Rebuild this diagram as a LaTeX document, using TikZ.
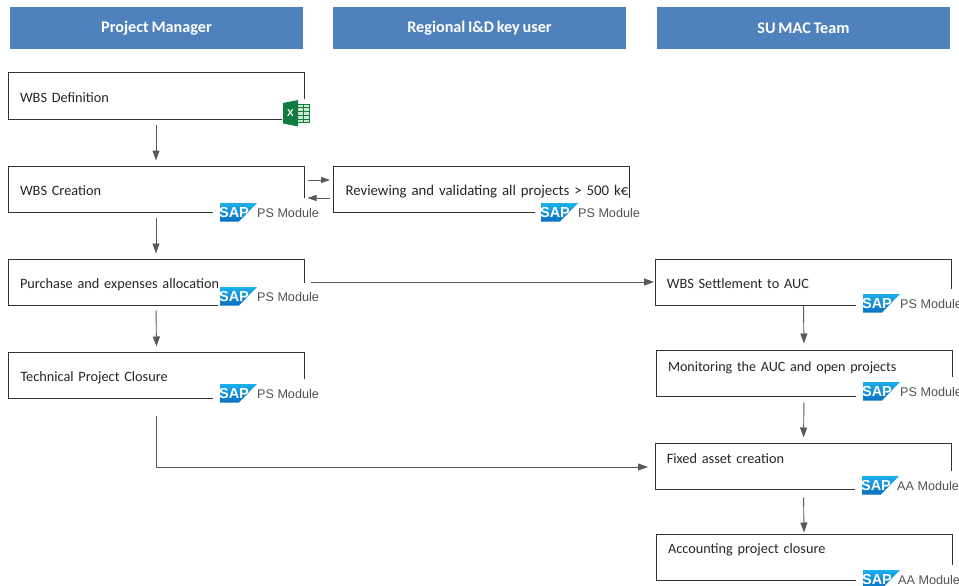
\documentclass[tikz,border=0pt]{standalone}
\usepackage{fontspec}
\setmainfont[WordSpace=0.75]{Carlito}
\newfontfamily\labelfont{Liberation Sans}
\usetikzlibrary{arrows.meta}
\definecolor{headblue}{HTML}{4F81BD}
\definecolor{flowgrey}{HTML}{595959}
\definecolor{xldark}{HTML}{107C41}
\definecolor{xllight}{HTML}{CFE8D0}
\definecolor{saptop}{HTML}{1CB0EC}
\definecolor{sapbot}{HTML}{0A6FC2}
\tikzset{
  x=1pt,y=-1pt,
  header/.style={fill=headblue,draw=none,minimum width=293pt,minimum height=42pt,inner sep=0pt,text=white,font=\bfseries\fontsize{16.2}{18}\selectfont},
  stepbox/.style={draw=black!80,line width=1pt,fill=white,minimum width=296pt,minimum height=46pt,text width=272pt,inner xsep=12pt,inner ysep=0pt,align=left,text height=13pt,text depth=0pt,font=\fontsize{14.3}{16}\selectfont,text=black!85},
  flow/.style={draw=flowgrey,line width=0.9pt,-{Triangle[length=10pt,width=7pt]}},
  smallflow/.style={draw=flowgrey,line width=0.9pt,-{Triangle[length=9pt,width=6pt]}},
  modlabel/.style={anchor=west,inner sep=0pt,text=black!68,font=\labelfont\fontsize{12.6}{15}\selectfont},
  saptext/.style={inner sep=0pt,text=white,font=\labelfont\bfseries\fontsize{14.5}{15}\selectfont},
}
\newcommand{\sapbadge}[7]{% name, x, y (logo top-left), module, mask left, mask top offset, label offset
  \fill[white] (#5,#3-#6) rectangle (#2+101,#3+19);
  \shade[top color=saptop,bottom color=sapbot] (#2,#3) -- (#2+37,#3) -- (#2+19,#3+18.5) -- (#2,#3+18.5) -- cycle;
  \node[saptext] (#1s) at (#2+14,#3+9.2) {SAP};
  \node[modlabel] (#1m) at (#2+#7,#3+10.2) {#4};
}
\begin{document}
\begin{tikzpicture}
\useasboundingbox (0,0) rectangle (959,586);
\fill[white] (0,0) rectangle (959,586);
% headers
\node[header] (h1) at (156.5,28) {Project Manager};
\node[header] (h2) at (479.5,28) {Regional I\&D key user};
\node[header] (h3) at (803.5,28) {SU MAC Team};
% boxes
\node[stepbox] (def) at (156,96) {WBS Definition};
\node[stepbox] (cre) at (156,189) {WBS Creation};
\node[stepbox] (pur) at (156,282) {Purchase and expenses allocation};
\node[stepbox] (tec) at (156.5,375) {Technical Project Closure};
\node[stepbox,font=\fontsize{14.8}{16}\selectfont] (rev) at (481.5,189) {\mbox{Reviewing and validating all projects > 500 k€}};
\node[stepbox] (set) at (803.5,282) {\hspace{-0.7pt}WBS Settlement to AUC};
\node[stepbox,font=\fontsize{14.1}{16}\selectfont] (mon) at (804,373) {\raisebox{8.5pt}{Monitoring the AUC and open projects}};
\node[stepbox] (fix) at (803.5,466) {\hspace{-0.7pt}\raisebox{9pt}{Fixed asset creation}};
\node[stepbox] (acc) at (804,557) {\raisebox{10pt}{Accounting project closure}};
% Excel icon
\fill[white] (282,99) rectangle (311,127);
\fill[xllight] (297,104) rectangle (309.5,122.5);
\draw[xldark,line width=0.7pt] (297,104) rectangle (309.5,122.5);
\foreach \gy in {107.7,111.4,115.1,118.8} \draw[xldark,line width=0.5pt] (297,\gy) -- (309.5,\gy);
\draw[xldark,line width=0.5pt] (303,104) -- (303,122.5);
\fill[xldark] (283,103) -- (298,100) -- (298,126.5) -- (283,123.5) -- cycle;
\node[inner sep=0pt,text=white,font=\labelfont\bfseries\fontsize{10}{12}\selectfont] (xl) at (290.5,113.5) {X};
% SAP badges
\sapbadge{a}{220}{203}{PS Module}{213}{5}{37}
\sapbadge{b}{541}{203}{PS Module}{535}{5}{37}
\sapbadge{c}{220}{287}{PS Module}{218}{4}{37}
\sapbadge{d}{220}{384}{PS Module}{213}{5}{37}
\sapbadge{e}{863}{294}{PS Module}{856}{5}{37}
\sapbadge{f}{863}{382}{PS Module}{856}{5}{37}
\sapbadge{g}{862}{476}{AA Module}{855}{5}{35}
\sapbadge{k}{863}{570}{AA Module}{856}{5}{35}
% connectors
\draw[flow,shorten <=5pt,shorten >=5pt] (def.south) -- (cre.north);
\draw[flow,shorten <=5pt,shorten >=5pt] (cre.south) -- (pur.north);
\draw[flow,shorten <=5pt,shorten >=5pt] (pur.south) -- (tec.north);
\draw[smallflow,shorten <=3pt,shorten >=3pt] ([yshift=9pt]cre.east) -- ([yshift=9pt]cre.east -| rev.west);
\draw[smallflow,shorten <=3pt,shorten >=3pt] ([yshift=-9pt]rev.west) -- ([yshift=-9pt]rev.west -| cre.east);
\draw[flow,shorten <=6pt,shorten >=1pt] (pur.east) -- (set.west);
\draw[flow,shorten <=0pt,shorten >=6pt] (set.south) -- (mon.north);
\draw[flow,shorten <=6pt,shorten >=5pt] (mon.south) -- (fix.north);
\draw[flow,shorten <=8pt,shorten >=1pt] (fix.south) -- (acc.north);
\coordinate (turn) at (156,467);
\draw[flow,shorten <=17pt,shorten >=7pt] (tec.south -| turn) -- (turn) -- (turn -| fix.west);
\end{tikzpicture}
\end{document}
